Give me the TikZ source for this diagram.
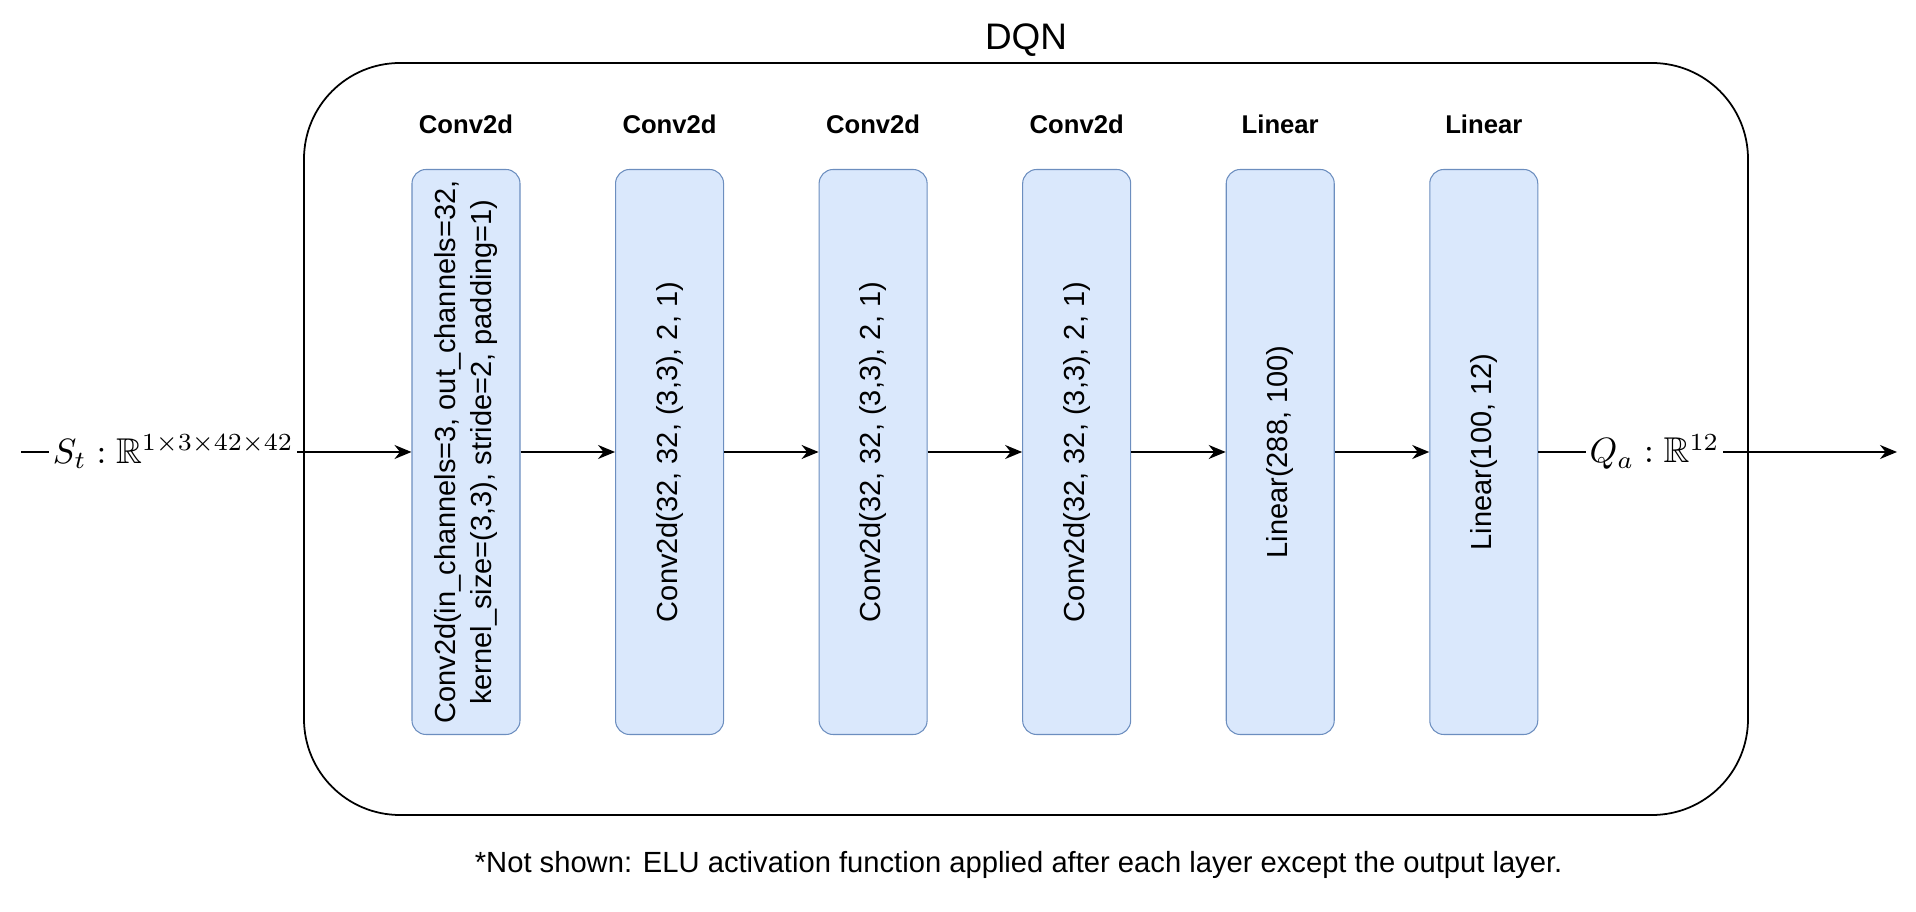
\documentclass[tikz,border=0pt]{standalone}
\usepackage{fontspec}
\setmainfont{Liberation Sans}
\usepackage{amsmath}
\usepackage{amssymb}
\usepackage{graphicx}
\usetikzlibrary{arrows.meta,positioning}
\definecolor{layerfill}{HTML}{DAE8FC}
\definecolor{layerdraw}{HTML}{6C8EBF}

\begin{document}
\begin{tikzpicture}[
    > = {Stealth[length=1.7mm,width=1.4mm]}, % arrow head style
    node distance = 0.945cm, % distance between layers
    line width = 0.5pt % line style
    ]

    \tikzset{layer/.style={
    draw = layerdraw,
    line width = 0.3pt,
    fill = layerfill,
    rounded corners = 1.4mm,
    minimum width = 1.08cm,
    minimum height = 5.65cm,
    inner sep = 0pt,
    font = \fontsize{8.25}{10.2}\selectfont
    }}
    \tikzset{kind/.style={
    font = \fontsize{7.3}{9}\selectfont\bfseries,
    anchor = base,
    inner sep = 0pt
    }}
    \tikzset{io/.style={
    fill = white,
    inner sep = 1pt,
    font = \fontsize{10.2}{12}\selectfont
    }}

    \useasboundingbox (0,0) rectangle (19.16,9.12);

    % container
    \node[draw, line width = 0.5pt, rounded corners = 0.96cm, minimum width = 14.44cm, minimum height = 7.52cm] (dqn) at (10.26,4.73) {};
    \node[anchor = base, inner sep = 0pt, font = \fontsize{10.5}{12}\selectfont] (title) at ([yshift=1.3mm]dqn.north) {DQN};

    % layers
    \node[layer] (c1) at (4.66,4.60) {\rotatebox{90}{\begin{tabular}{@{}c@{}}Conv2d(in\_channels=3, out\_channels=32,\\kernel\_size=(3,3), stride=2, padding=1)\end{tabular}}};
    \node[layer] (c2) [right=of c1] {\rotatebox{90}{Conv2d(32, 32, (3,3), 2, 1)}};
    \node[layer] (c3) [right=of c2] {\rotatebox{90}{Conv2d(32, 32, (3,3), 2, 1)}};
    \node[layer] (c4) [right=of c3] {\rotatebox{90}{Conv2d(32, 32, (3,3), 2, 1)}};
    \node[layer] (l1) [right=of c4] {\rotatebox{90}{Linear(288, 100)}};
    \node[layer] (l2) [right=of l1] {\rotatebox{90}{Linear(100, 12)}};

    \foreach \n/\t in {c1/Conv2d, c2/Conv2d, c3/Conv2d, c4/Conv2d, l1/Linear, l2/Linear}
        \node[kind] (k\n) at ([yshift=3.5mm]\n.north) {\t};

    \coordinate (in) at (0.21,4.60);
    \coordinate (out) at (18.97,4.60);

    \path[->] (in) edge node[io, pos=0.39] (st) {$S_t : \mathbb{R}^{1\times 3\times 42\times 42}$} (c1);
    \path[->] (c1) edge (c2);
    \path[->] (c2) edge (c3);
    \path[->] (c3) edge (c4);
    \path[->] (c4) edge (l1);
    \path[->] (l1) edge (l2);
    \path[->] (l2) edge node[io, pos=0.324] (qa) {$Q_a : \mathbb{R}^{12}$} (out);

    \node[anchor = base west, inner sep = 0pt, font = \fontsize{8.3}{10}\selectfont] (note) at (4.74,0.39) {*Not shown: ELU activation function applied after each layer except the output layer.};
\end{tikzpicture}
\end{document}
